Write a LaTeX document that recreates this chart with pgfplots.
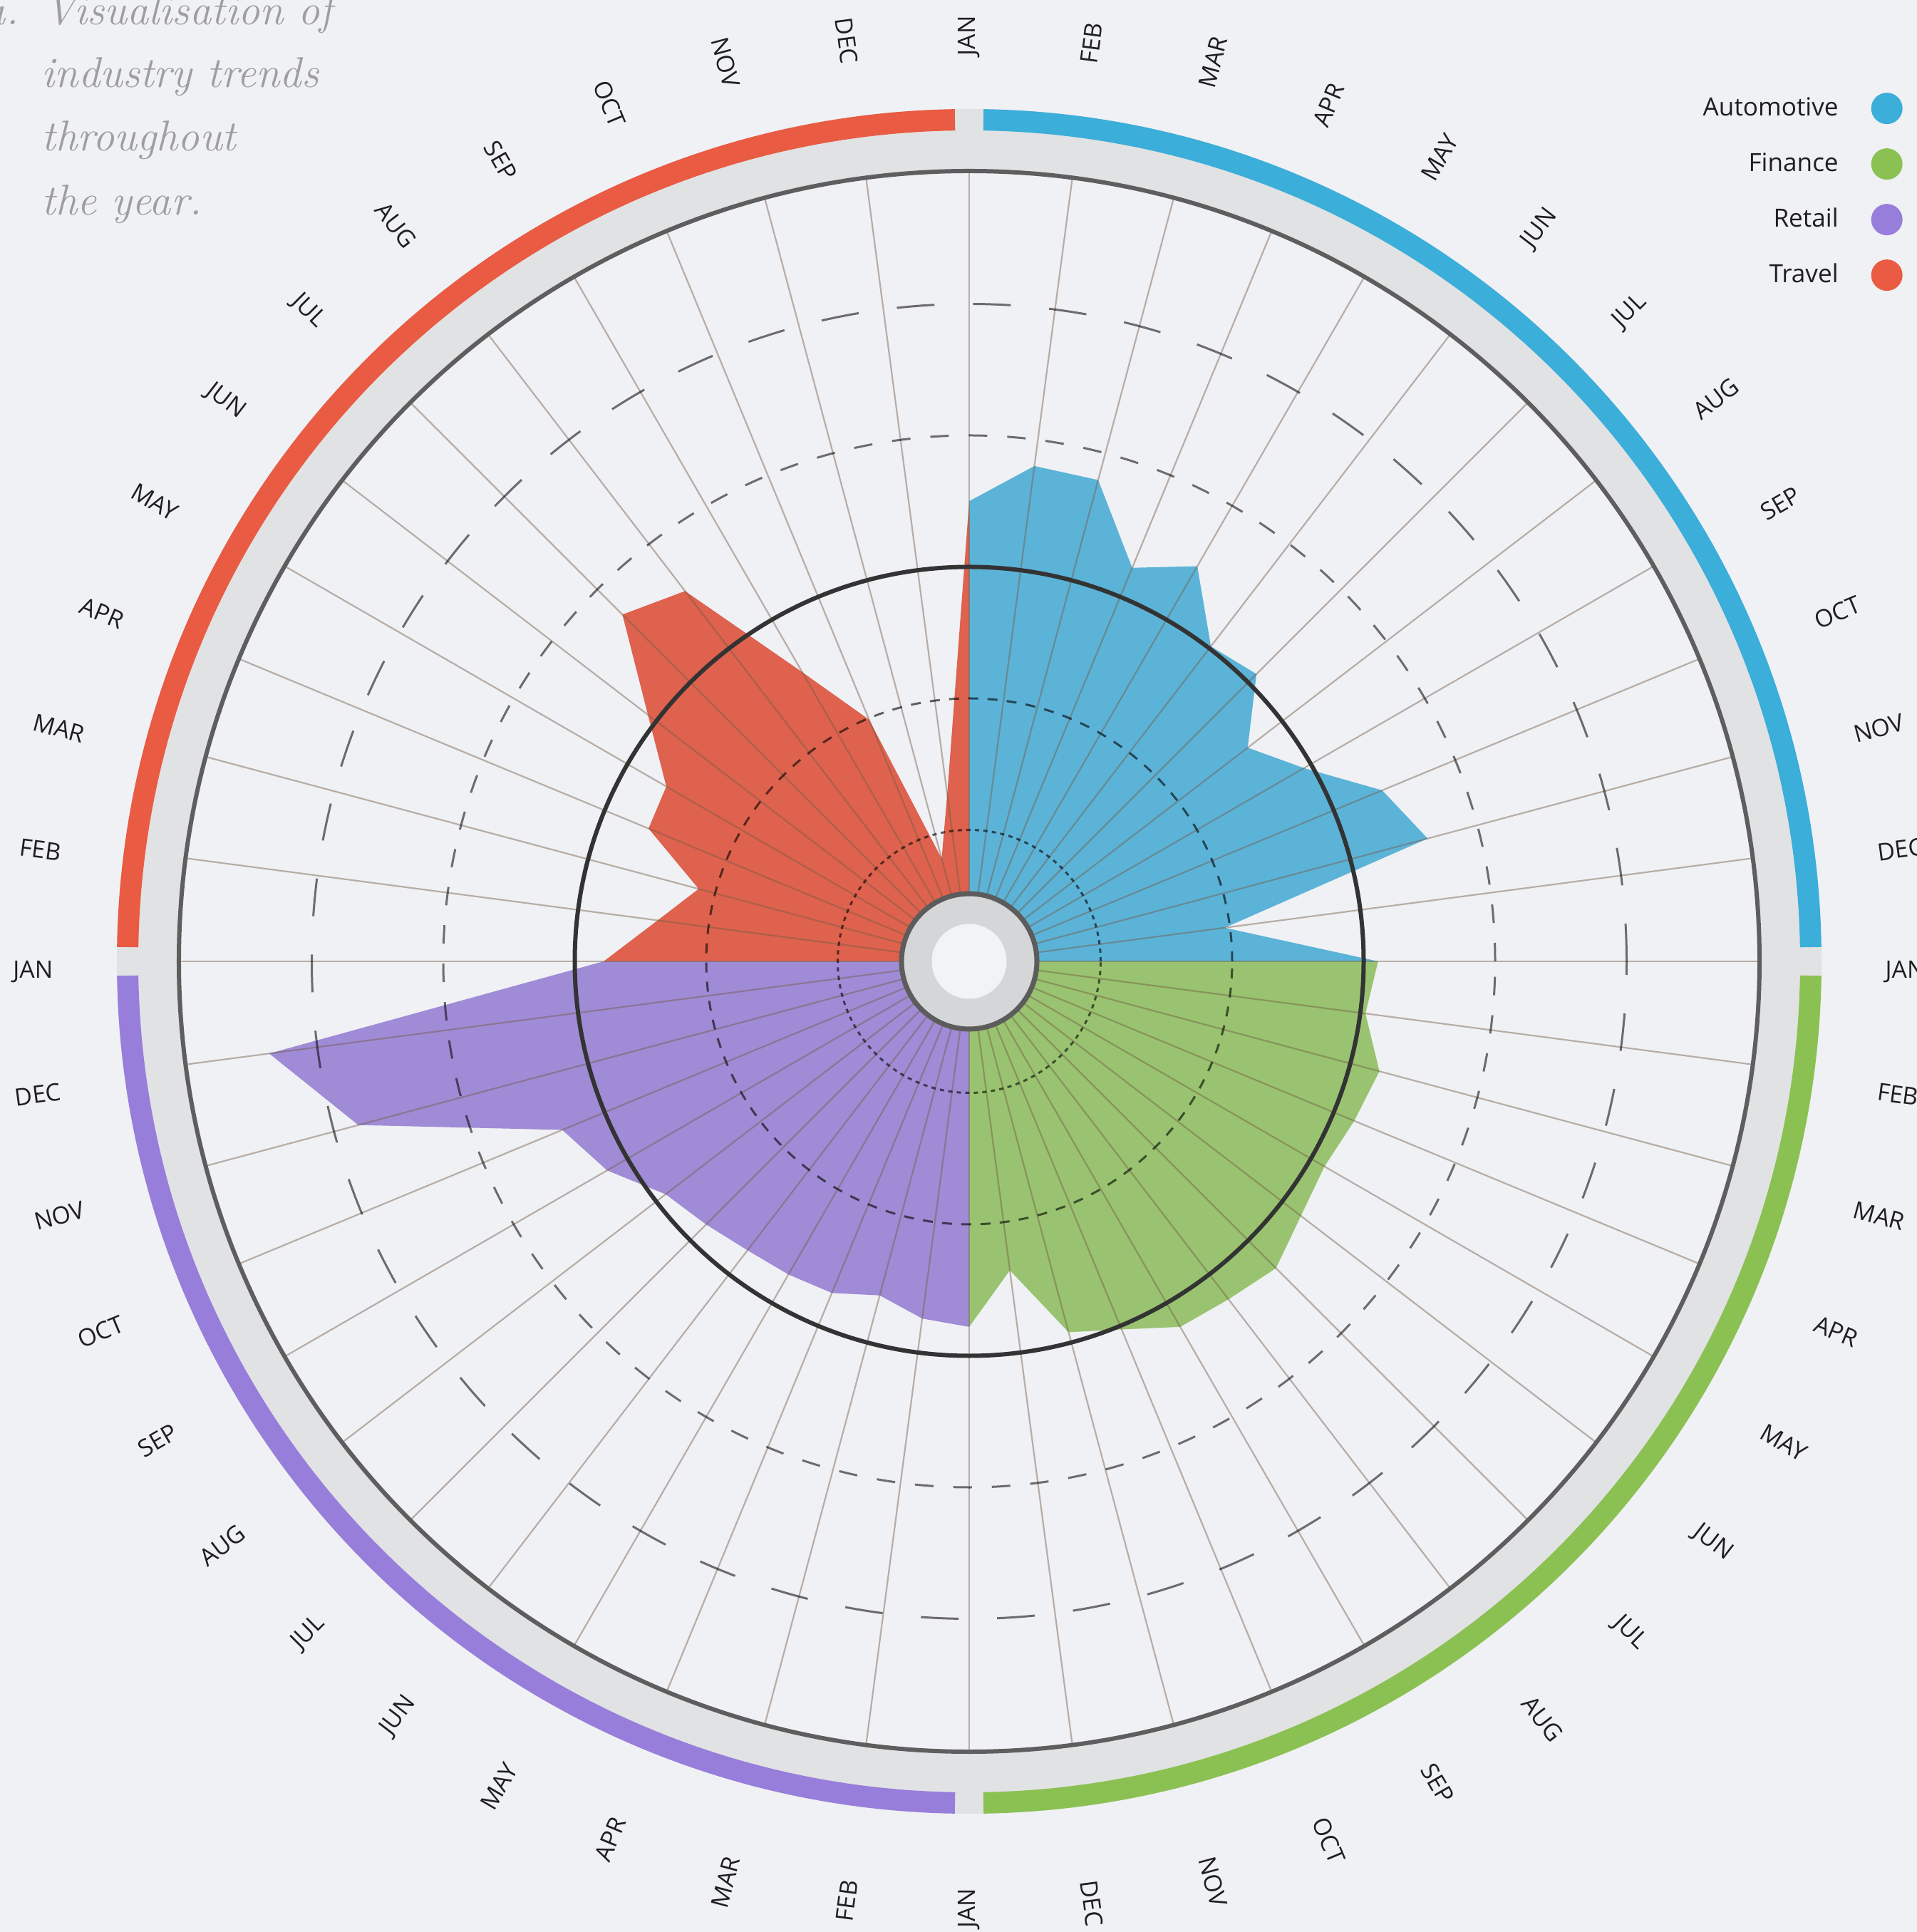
\documentclass[border=0pt]{standalone}
\usepackage{pgfplots}
\pgfplotsset{compat=1.18}
\usepackage{fontspec}
\newfontfamily\labfont{Open Sans}
\definecolor{bgc}{RGB}{240,241,245}
\definecolor{ringc}{RGB}{225,226,228}
\definecolor{autoL}{RGB}{59,174,218}
\definecolor{finL}{RGB}{139,193,82}
\definecolor{retL}{RGB}{152,126,219}
\definecolor{travL}{RGB}{233,91,66}
\definecolor{autoF}{RGB}{92,179,216}
\definecolor{finF}{RGB}{153,195,112}
\definecolor{retF}{RGB}{160,139,214}
\definecolor{travF}{RGB}{222,98,78}
\definecolor{spokec}{RGB}{115,92,69}
\definecolor{titlec}{RGB}{158,158,158}
\definecolor{holec}{RGB}{213,214,216}
\definecolor{holed}{RGB}{92,92,92}
\definecolor{holein}{RGB}{242,243,246}
\definecolor{outerc}{RGB}{94,94,94}
\tikzset{
  spoke/.style={spokec, opacity=0.45, line width=0.22mm},
  lab/.style={font=\labfont\fontsize{9.6}{12}\selectfont, text=black!88, inner sep=0pt},
  ttl/.style={font=\fontsize{17.2}{20}\selectfont\itshape, text=titlec, inner sep=0pt}
}
\newcommand{\Rlab}[2]{\node[lab, rotate=#1, anchor=west] at ([shift={(#1:128.5mm)},yshift=-1.5mm]axis cs:0,0) {#2};}
\newcommand{\Llab}[2]{\node[lab, rotate=#1+180, anchor=east] at ([shift={(#1:128.5mm)},yshift=-1.5mm]axis cs:0,0) {#2};}
\begin{document}
\begin{tikzpicture}
\begin{axis}[
  hide axis, scale only axis,
  x=18.45mm, y=18.45mm,
  xmin=-7.3713, xmax=7.2087, ymin=-7.3821, ymax=7.3117,
  legend style={at={(rel axis cs:0.99245,0.9520)}, anchor=north east, draw=none, fill=none,
    inner sep=0pt, outer sep=0pt, row sep=3.4mm, column sep=4.6mm,
    font=\labfont\fontsize{10}{12}\selectfont, nodes={inner sep=0pt, outer sep=0pt, text=black!88}},
  legend plot pos=right, legend cell align=right,
  legend image code/.code={\fill[#1] (2.2mm,0mm) circle[radius=2.2mm];},
]
\coordinate (BL) at (rel axis cs:0,0);
\coordinate (TR) at (rel axis cs:1,1);
\fill[bgc] (rel axis cs:0,0) rectangle (rel axis cs:1,1);
% outer grey ring
\fill[ringc, even odd rule] (axis cs:0,0) circle[radius=119.6mm] (axis cs:0,0) circle[radius=110.9mm];
% coloured arcs
\draw[autoL, line width=3mm] ([shift={(0.97:118.1mm)}]axis cs:0,0) arc[start angle=0.97, end angle=89.03, radius=118.1mm];
\draw[finL, line width=3mm] ([shift={(-89.03:118.1mm)}]axis cs:0,0) arc[start angle=-89.03, end angle=-0.97, radius=118.1mm];
\draw[retL, line width=3mm] ([shift={(-179.03:118.1mm)}]axis cs:0,0) arc[start angle=-179.03, end angle=-90.97, radius=118.1mm];
\draw[travL, line width=3mm] ([shift={(90.97:118.1mm)}]axis cs:0,0) arc[start angle=90.97, end angle=179.03, radius=118.1mm];

% data areas (angle, value)
\addplot[fill=autoF, draw=none, forget plot, data cs=polar] coordinates {
 (0,0) (90,3.50) (82.5,3.80) (75,3.79) (67.5,3.24) (60,3.47) (52.5,3.02) (45,3.09)
 (37.5,2.67) (30,2.94) (22.5,3.40) (15,3.61) (7.5,1.96) (0,3.11)} -- cycle;
\addplot[fill=finF, draw=none, forget plot, data cs=polar] coordinates {
 (0,0) (0,3.11) (-7.5,3.04) (-15,3.23) (-22.5,3.17) (-30,3.12) (-37.5,3.18) (-45,3.30)
 (-52.5,3.24) (-60,3.21) (-67.5,3.03) (-75,2.92) (-82.5,2.37) (-90,2.78)} -- cycle;
\addplot[fill=retF, draw=none, forget plot, data cs=polar] coordinates {
 (0,0) (-90,2.78) (-97.5,2.74) (-105,2.63) (-112.5,2.73) (-120,2.75) (-127.5,2.77) (-135,2.83)
 (-142.5,2.91) (-150,3.18) (-157.5,3.35) (-165,4.81) (-172.5,5.37) (-180,2.78)} -- cycle;
\addplot[fill=travF, draw=none, forget plot, data cs=polar] coordinates {
 (0,0) (180,2.78) (172.5,2.39) (165,2.13) (157.5,2.64) (150,2.66) (142.5,3.08) (135,3.73)
 (127.5,3.55) (120,2.54) (112.5,1.99) (105,0.81) (97.5,1.28) (90,3.50)} -- cycle;

% spokes
\pgfplotsinvokeforeach{0,...,47}{
  \draw[spoke] (axis cs:0,0) -- ([shift={({#1*7.5}:110.7mm)}]axis cs:0,0);
}
% reference circles
\draw[black, opacity=0.6, line width=0.3mm, dash pattern=on 0.6mm off 0.6mm] (axis cs:0,0) circle[radius=18.45mm];
\draw[black, opacity=0.6, line width=0.3mm, dash pattern=on 1.4mm off 1.3mm] (axis cs:0,0) circle[radius=36.9mm];
\draw[black, opacity=0.55, line width=0.3mm, dash pattern=on 2.6mm off 2.8mm] (axis cs:0,0) circle[radius=73.8mm];
\draw[black, opacity=0.55, line width=0.3mm, dash pattern=on 5.3mm off 5.4mm] (axis cs:0,0) circle[radius=92.25mm];
\draw[black!80, line width=0.6mm] (axis cs:0,0) circle[radius=55.35mm];
\draw[outerc, line width=0.6mm] (axis cs:0,0) circle[radius=110.9mm];
% hub
\filldraw[fill=holec, draw=holed, line width=0.7mm] (axis cs:0,0) circle[radius=9.5mm];
\fill[holein] (axis cs:0,0) circle[radius=5.25mm];

% month labels
\Rlab{90}{JAN}\Rlab{82.5}{FEB}\Rlab{75}{MAR}\Rlab{67.5}{APR}\Rlab{60}{MAY}\Rlab{52.5}{JUN}
\Rlab{45}{JUL}\Rlab{37.5}{AUG}\Rlab{30}{SEP}\Rlab{22.5}{OCT}\Rlab{15}{NOV}\Rlab{7.5}{DEC}
\Rlab{0}{JAN}\Rlab{-7.5}{FEB}\Rlab{-15}{MAR}\Rlab{-22.5}{APR}\Rlab{-30}{MAY}\Rlab{-37.5}{JUN}
\Rlab{-45}{JUL}\Rlab{-52.5}{AUG}\Rlab{-60}{SEP}\Rlab{-67.5}{OCT}\Rlab{-75}{NOV}\Rlab{-82.5}{DEC}
\Llab{-90}{JAN}\Llab{-97.5}{FEB}\Llab{-105}{MAR}\Llab{-112.5}{APR}\Llab{-120}{MAY}\Llab{-127.5}{JUN}
\Llab{-135}{JUL}\Llab{-142.5}{AUG}\Llab{-150}{SEP}\Llab{-157.5}{OCT}\Llab{-165}{NOV}\Llab{-172.5}{DEC}
\Llab{180}{JAN}\Llab{172.5}{FEB}\Llab{165}{MAR}\Llab{157.5}{APR}\Llab{150}{MAY}\Llab{142.5}{JUN}
\Llab{135}{JUL}\Llab{127.5}{AUG}\Llab{120}{SEP}\Llab{112.5}{OCT}\Llab{105}{NOV}\Llab{97.5}{DEC}

% title
\node[ttl, anchor=base east] at (rel axis cs:0.0100,0.98709) {a.};
\node[ttl, anchor=base west] at (rel axis cs:0.02305,0.98709) {Visualisation of};
\node[ttl, anchor=base west] at (rel axis cs:0.02156,0.95463) {industry trends};
\node[ttl, anchor=base west] at (rel axis cs:0.02156,0.92180) {throughout};
\node[ttl, anchor=base west] at (rel axis cs:0.02156,0.88860) {the year.};

% legend
\addlegendimage{fill=autoL, draw=none}\addlegendentry{Automotive}
\addlegendimage{fill=finL, draw=none}\addlegendentry{Finance}
\addlegendimage{fill=retL, draw=none}\addlegendentry{Retail}
\addlegendimage{fill=travL, draw=none}\addlegendentry{Travel}
\end{axis}
\pgfresetboundingbox
\path[use as bounding box] (BL) rectangle (TR);
\end{tikzpicture}
\end{document}
